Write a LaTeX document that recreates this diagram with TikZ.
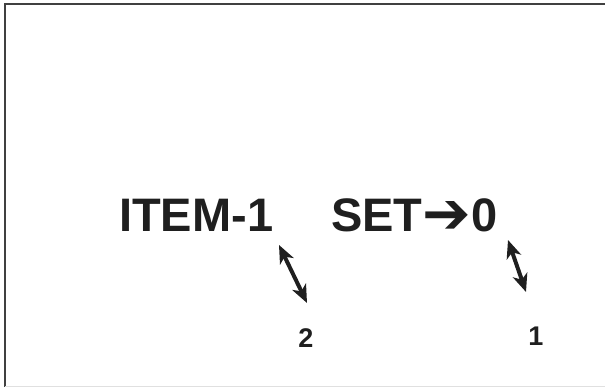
\documentclass[tikz,border=0pt]{standalone}
\usepackage{fontspec}
\setmainfont{Liberation Sans}
\newfontfamily\arrowfont{DejaVu Sans}
\usetikzlibrary{arrows.meta}
\begin{document}
\begin{tikzpicture}[x=1pt,y=1pt,
  bigtxt/.style={inner sep=0pt,font=\bfseries\fontsize{47}{47}\selectfont,text=black!88},
  smalltxt/.style={inner sep=0pt,font=\bfseries\fontsize{27}{27}\selectfont,text=black!88},
  dbl/.style={line width=4pt,draw=black!88,{Stealth[length=18pt,width=15pt,inset=5pt]}-{Stealth[length=18pt,width=15pt,inset=5pt]}},
  frameline/.style={line width=2pt,draw=black!75}]
\useasboundingbox (0,0) rectangle (605,387);
\draw[frameline] (5,0) -- (5,383) -- (605,383);
\draw[line width=0.6pt,draw=black!12] (5,1) -- (605,1);
\node[bigtxt,anchor=base west] (item) at (119,155) {ITEM-1};
\node[bigtxt,anchor=base west] (set) at (331,155) {SET{\arrowfont\bfseries\fontsize{58}{58}\selectfont\raisebox{-2pt}{➔}}0};
\node[smalltxt,anchor=base] (two) at (306,39) {2};
\node[smalltxt,anchor=base] (one) at (536,41) {1};
\coordinate (a1) at (279,142);
\coordinate (a2) at (307,84);
\coordinate (b1) at (508,147);
\coordinate (b2) at (526,95);
\draw[dbl] (a1) -- (a2);
\draw[dbl] (b1) -- (b2);
\end{tikzpicture}
\end{document}
